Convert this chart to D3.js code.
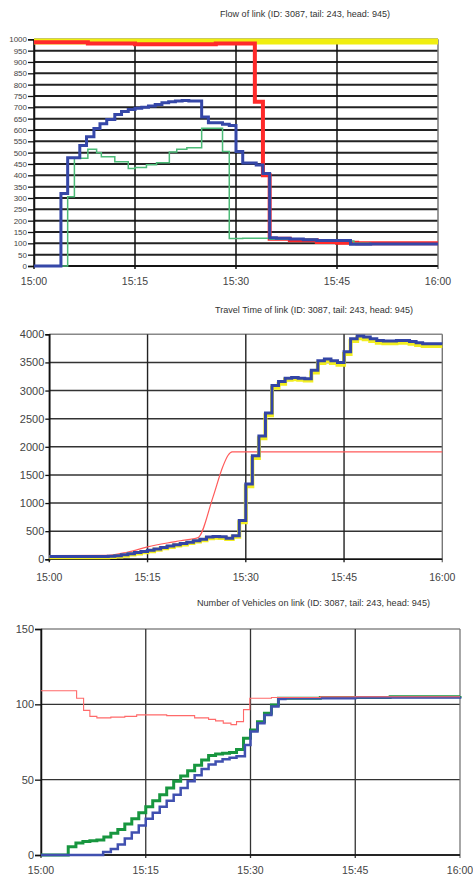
<html>
<head>
    <script src="https://d3js.org/d3.v7.min.js"></script>
    <style>
        body { margin: 0; background: #fff; }
        text { font-family: "Liberation Sans", Arial, sans-serif; }
    </style>
</head>

<body>
    <div id="cont"></div>

    <script>
        // minutes after 15:00
        var xTickMin = [0, 15, 30, 45, 60];
        var xTickLabels = ["15:00", "15:15", "15:30", "15:45", "16:00"];

        // ---- Flow of link
        var flowTicks = d3.range(0, 1001, 50);
        var flowYellowT = [0, 60];
        var flowYellowV = [990, 990];
        var flowRedT = [0, 8, 15, 22, 27, 32.8, 34, 35, 38, 42, 45, 48, 60];
        var flowRedV = [987, 982, 978, 978, 982, 725, 400, 120, 114, 106, 103, 100, 100];
        var flowGreenT = [0, 5, 6, 8, 9.3, 10, 12, 14, 15, 16.7, 18.2, 20.1, 21.2, 22.7, 24.9, 28, 29, 31, 35, 42, 47.5, 50, 60];
        var flowGreenV = [0, 305, 475, 515, 500, 482, 460, 430, 435, 447, 455, 503, 515, 522, 608, 505, 121, 122, 118, 110, 100, 98, 98];
        var flowBlueT = [0, 4, 5, 6.8, 7.8, 8.9, 9.8, 10.8, 12, 13, 14, 15, 16, 17, 18, 19, 20, 21, 22, 23, 24.9, 25.9, 28, 29, 30, 31, 33, 34, 35, 36, 38, 40, 42, 47, 50, 60];
        var flowBlueV = [0, 320, 478, 532, 570, 606, 628, 646, 668, 681, 690, 696, 700, 706, 712, 720, 724, 728, 730, 728, 657, 632, 625, 620, 505, 454, 445, 408, 125, 122, 119, 116, 112, 96, 97, 97];

        // ---- Travel time of link
        var ttTicks = d3.range(0, 4001, 500);
        var ttRedT = [0, 9, 12, 15, 18, 20, 22.7, 25, 26.5, 27.3, 27.9, 60];
        var ttRedV = [65, 70, 130, 220, 290, 330, 385, 1110, 1650, 1850, 1910, 1910];
        var ttStepT = [0, 9, 10, 11, 12, 13, 14, 15, 16, 17, 18, 19, 20, 21, 22, 23, 24, 25, 26, 27, 28, 29, 30, 31, 32, 33, 34, 35, 36, 37, 38, 39, 40, 41, 42, 43, 44, 45, 46, 47, 48, 49, 50, 51, 53, 55, 56, 57, 60];
        var ttBlueV = [50, 55, 65, 80, 100, 120, 140, 160, 185, 210, 235, 260, 280, 305, 330, 355, 395, 405, 400, 375, 420, 690, 1340, 1840, 2190, 2600, 3090, 3160, 3220, 3230, 3220, 3210, 3360, 3530, 3560, 3530, 3500, 3690, 3920, 3970, 3950, 3920, 3890, 3880, 3890, 3870, 3850, 3830, 3830];
        var ttYellowV = [35, 40, 50, 65, 85, 105, 125, 145, 170, 195, 220, 245, 265, 290, 315, 340, 375, 385, 380, 360, 400, 660, 1300, 1800, 2150, 2560, 3050, 3120, 3190, 3200, 3190, 3180, 3320, 3490, 3520, 3490, 3460, 3650, 3880, 3930, 3910, 3880, 3850, 3840, 3850, 3830, 3810, 3790, 3790];

        // ---- Number of vehicles on link
        var nvTicks = [0, 50, 100, 150];
        var nvRedT = [0, 5.1, 6.1, 7, 8, 10, 12, 13.7, 16, 18, 20, 22, 24, 25, 26.1, 27.2, 28, 29, 29.9, 31, 33, 40, 60];
        var nvRedV = [109, 104, 96, 92, 91, 91.5, 92, 93, 93, 92.5, 92.5, 91, 90, 89, 87.5, 86.5, 88.5, 96.5, 104, 104, 104.5, 105, 105];
        var nvGreenT = [0, 3.9, 5, 6, 7, 8, 9, 10, 11, 12, 13, 14, 15, 16, 17, 18, 19, 20, 21, 22, 23, 24, 25, 26, 27, 28, 29, 30, 31, 32, 33, 34, 40, 50, 60];
        var nvGreenV = [0, 5.5, 8, 9, 9.5, 10, 12, 14.5, 17, 20.5, 24, 28, 32, 36, 40, 44.5, 49, 52.5, 56, 59.5, 63, 66, 67, 67.5, 68, 70, 77.5, 83, 88.5, 94, 99.5, 104, 104.5, 105, 105.5];
        var nvBlueT = [0, 8.9, 10, 11, 12, 13, 14, 15, 16, 17, 18, 19, 20, 21, 22, 23, 24, 25, 26, 27, 28, 29.2, 30, 31, 32, 33, 34, 35, 45, 60];
        var nvBlueV = [0, 2, 4, 7, 11, 15, 19.5, 24, 28, 32, 36, 40, 44.5, 49, 53, 57, 60, 62, 63.5, 64.5, 65.5, 73, 82, 87.5, 93, 98.5, 103.5, 104, 104.5, 105];

        var panels = [
            {
                title: "Flow of link (ID: 3087, tail: 243, head: 945)",
                tx0: 220, tx1: 390, ty: 17, tSize: 9,
                left: 34, right: 438, top: 39.3, bottom: 266,
                yMax: 1000, ticks: flowTicks, yFont: 8, yTick: 6,
                xLabelY: 285, xFont: 10.5,
                hgrid: { w: 2, c: "#222" }, vgrid: { w: 1.5, c: "#111" },
                series: [
                    { t: flowYellowT, v: flowYellowV, c: "#f0ee10", w: 6 },
                    { t: flowRedT, v: flowRedV, c: "#ff2a2a", w: 4 },
                    { t: flowGreenT, v: flowGreenV, c: "#4cbb78", w: 1.5 },
                    { t: flowBlueT, v: flowBlueV, c: "#3547a8", w: 3 }
                ]
            },
            {
                title: "Travel Time of link (ID: 3087, tail: 243, head: 945)",
                tx0: 215, tx1: 413, ty: 313, tSize: 9,
                left: 49.3, right: 442.3, top: 334.3, bottom: 559.3,
                yMax: 4000, ticks: ttTicks, yFont: 11, yTick: 4,
                xLabelY: 581, xFont: 10.5,
                hgrid: { w: 1.6, c: "#333" }, vgrid: { w: 1.4, c: "#222" },
                series: [
                    { t: ttRedT, v: ttRedV, c: "#ff5a5a", w: 1.2, smooth: true },
                    { t: ttStepT, v: ttYellowV, c: "#f2ee20", w: 4 },
                    { t: ttStepT, v: ttBlueV, c: "#3345a5", w: 3 }
                ]
            },
            {
                title: "Number of Vehicles on link (ID: 3087, tail: 243, head: 945)",
                tx0: 197, tx1: 430, ty: 606, tSize: 9,
                left: 41, right: 460, top: 629, bottom: 855,
                yMax: 150, ticks: nvTicks, yFont: 11, yTick: 6,
                xLabelY: 874, xFont: 10.5,
                hgrid: { w: 1.3, c: "#333" }, vgrid: { w: 1.3, c: "#333" },
                series: [
                    { t: nvGreenT, v: nvGreenV, c: "#17963f", w: 3 },
                    { t: nvBlueT, v: nvBlueV, c: "#4050b0", w: 2.5 },
                    { t: nvRedT, v: nvRedV, c: "#ff6a6a", w: 1.1 }
                ]
            }
        ];

        var svg = d3.select("#cont").append("svg")
            .attr("width", 473)
            .attr("height", 879);

        panels.forEach(function (p) {
            var g = svg.append("g");
            var x = d3.scaleLinear().domain([0, 60]).range([p.left, p.right]);
            var y = d3.scaleLinear().domain([0, p.yMax]).range([p.bottom, p.top]);

            // title
            g.append("text")
                .attr("x", p.tx0).attr("y", p.ty)
                .attr("textLength", p.tx1 - p.tx0)
                .attr("lengthAdjust", "spacingAndGlyphs")
                .attr("font-size", p.tSize)
                .attr("fill", "#333")
                .text(p.title);

            // grid
            g.selectAll(".hg").data(p.ticks).enter().append("line")
                .attr("x1", p.left).attr("x2", p.right)
                .attr("y1", function (d) { return y(d); })
                .attr("y2", function (d) { return y(d); })
                .attr("stroke", function (d) { return d == p.yMax ? "#888" : p.hgrid.c; })
                .attr("stroke-width", p.hgrid.w);
            g.selectAll(".vg").data(xTickMin).enter().append("line")
                .attr("x1", function (d) { return x(d); })
                .attr("x2", function (d) { return x(d); })
                .attr("y1", p.top).attr("y2", p.bottom + 3)
                .attr("stroke", function (d) { return d == 60 ? "#777" : p.vgrid.c; })
                .attr("stroke-width", p.vgrid.w);

            // axes
            var ya = g.append("g")
                .attr("transform", "translate(" + p.left + ",0)")
                .call(d3.axisLeft(y).tickValues(p.ticks).tickFormat(d3.format("d"))
                    .tickSize(p.yTick).tickPadding(1));
            ya.select(".domain").attr("stroke", "#111").attr("stroke-width", 1.5);
            ya.selectAll(".tick line").attr("stroke", "#111").attr("stroke-width", 1.3);
            ya.selectAll("text").attr("font-size", p.yFont).attr("fill", "#444")
                .style("font-family", "'Liberation Sans', Arial, sans-serif");

            g.selectAll(".xl").data(xTickMin).enter().append("text")
                .attr("x", function (d) { return x(d); })
                .attr("y", p.xLabelY)
                .attr("text-anchor", "middle")
                .attr("font-size", p.xFont)
                .attr("fill", "#444")
                .text(function (d, i) { return xTickLabels[i]; });

            g.append("line")
                .attr("x1", p.left).attr("x2", p.right)
                .attr("y1", p.bottom).attr("y2", p.bottom)
                .attr("stroke", "#111").attr("stroke-width", 1.5);

            // series
            p.series.forEach(function (s) {
                var pts = s.t.map(function (t, i) { return [t, s.v[i]]; });
                var line = d3.line()
                    .x(function (d) { return x(d[0]); })
                    .y(function (d) { return y(d[1]); })
                    .curve(s.smooth ? d3.curveMonotoneX : d3.curveStepAfter);
                g.append("path")
                    .attr("d", line(pts))
                    .attr("fill", "none")
                    .attr("stroke", s.c)
                    .attr("stroke-width", s.w)
                    .attr("stroke-linejoin", "miter");
            });
        });
    </script>
</body>
</html>
